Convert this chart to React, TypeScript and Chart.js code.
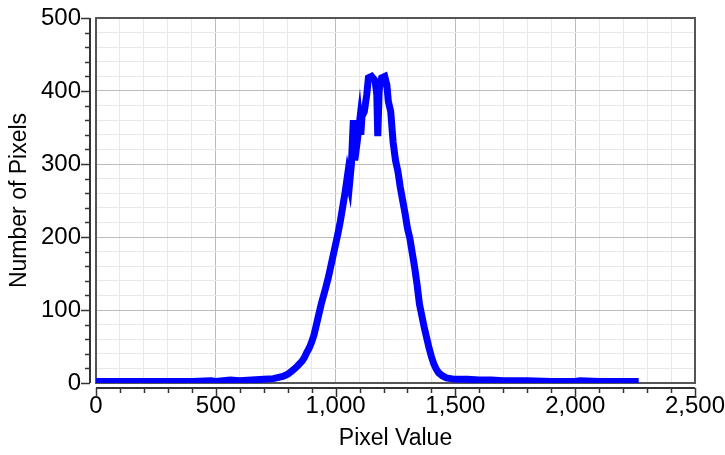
import React, { useEffect, useRef } from 'react';
import { Chart, registerables } from 'chart.js';

Chart.register(...registerables);

// Histogram
const pixelValues = [
  0, 100, 200, 300, 400, 480, 500, 560, 600, 650, 700, 740, 780, 800, 820, 840, 860, 870, 880, 890,
  900, 910, 920, 930, 940, 950, 960, 970, 980, 990, 1000, 1010, 1020, 1030, 1040, 1050, 1058, 1066,
  1074, 1080, 1090, 1100, 1105, 1110, 1120, 1130, 1137, 1150, 1165, 1172, 1176, 1182, 1192, 1205,
  1214, 1220, 1230, 1240, 1250, 1260, 1270, 1280, 1290, 1300, 1310, 1320, 1330, 1340, 1350, 1360,
  1370, 1380, 1390, 1400, 1410, 1420, 1430, 1445, 1462, 1480, 1500, 1550, 1600, 1650, 1700, 1800,
  1900, 2000, 2020, 2100, 2200, 2265,
];
const pixelCounts = [
  2, 2, 2, 2, 2, 3, 2, 4, 3, 4, 5, 6, 9, 12, 17, 23, 30, 35, 42, 48,
  56, 66, 80, 94, 108, 120, 132, 145, 160, 175, 190, 205, 222, 242, 262, 285, 272, 300,
  360, 305, 330, 358, 340, 365, 372, 395, 418, 420, 414, 395, 338, 402, 418, 420,
  408, 386, 372, 330, 305, 290, 268, 250, 232, 212, 198, 178, 158, 135, 108, 92,
  76, 62, 48, 36, 26, 19, 14, 10, 7, 6, 5, 5, 4, 4, 3, 3,
  2, 2, 3, 2, 2, 2,
];

const xMajorTicks = [0, 500, 1000, 1500, 2000, 2500];
const yMajorTicks = [0, 100, 200, 300, 400, 500];
const xTitle = 'Pixel Value';
const yTitle = 'Number of Pixels';

const FONT = '"Liberation Sans", Arial, Helvetica, sans-serif';

const offsetAxesPlugin = {
  id: 'offsetAxes',
  beforeDatasetsDraw(chart: any) {
    const { ctx, chartArea } = chart;
    ctx.save();
    ctx.strokeStyle = '#555555';
    ctx.lineWidth = 2;
    ctx.strokeRect(chartArea.left, chartArea.top, chartArea.right - chartArea.left, chartArea.bottom - chartArea.top);
    ctx.restore();
  },
  afterDraw(chart: any) {
    const { ctx, chartArea, scales } = chart;
    const xs = scales.x;
    const ys = scales.y;
    ctx.save();
    ctx.strokeStyle = '#333333';
    const ax = chartArea.left - 6;
    ctx.lineWidth = 2;
    ctx.beginPath();
    ctx.moveTo(ax, chartArea.top);
    ctx.lineTo(ax, chartArea.bottom);
    ctx.stroke();
    ctx.lineWidth = 1.5;
    ys.ticks.forEach((t: any) => {
      const py = Math.round(ys.getPixelForValue(t.value)) + 0.5;
      const len = yMajorTicks.includes(t.value) ? 9 : 5;
      ctx.beginPath();
      ctx.moveTo(ax, py);
      ctx.lineTo(ax - len, py);
      ctx.stroke();
    });
    const ay = chartArea.bottom + 5;
    ctx.lineWidth = 2;
    ctx.beginPath();
    ctx.moveTo(chartArea.left, ay);
    ctx.lineTo(chartArea.right, ay);
    ctx.stroke();
    ctx.lineWidth = 1.5;
    xs.ticks.forEach((t: any) => {
      const px = Math.round(xs.getPixelForValue(t.value)) + 0.5;
      const len = xMajorTicks.includes(t.value) ? 9 : 5;
      ctx.beginPath();
      ctx.moveTo(px, ay);
      ctx.lineTo(px, ay + len);
      ctx.stroke();
    });
    ctx.restore();
  },
};

const noPad = (s: any) => {
  s.paddingLeft = 0;
  s.paddingRight = 0;
  s.paddingTop = 0;
  s.paddingBottom = 0;
};

export default function App() {
  const canvasRef = useRef<HTMLCanvasElement | null>(null);

  useEffect(() => {
    document.body.style.margin = '0';
    const canvas = canvasRef.current;
    if (!canvas) return;
    const points = pixelValues.map((v, i) => ({ x: v, y: pixelCounts[i] }));
    const chart = new Chart(canvas, {
      type: 'line',
      data: {
        datasets: [
          {
            data: points,
            borderColor: '#0000ff',
            backgroundColor: '#0000ff',
            borderWidth: 7,
            pointRadius: 0,
            tension: 0,
            borderJoinStyle: 'miter',
          },
        ],
      },
      options: {
        animation: false,
        responsive: false,
        devicePixelRatio: 1,
        parsing: false as any,
        layout: { padding: { top: 18, right: 30, left: 0, bottom: 0 } },
        plugins: {
          legend: { display: false },
          tooltip: { enabled: false },
          title: { display: false },
        },
        scales: {
          x: {
            type: 'linear',
            min: 0,
            max: 2500,
            afterFit: (s: any) => {
              s.height = 72;
              noPad(s);
            },
            afterBuildTicks: (s: any) => {
              const t = [];
              for (let v = 0; v <= 2500; v += 100) t.push({ value: v });
              s.ticks = t;
            },
            ticks: {
              autoSkip: false,
              maxRotation: 0,
              minRotation: 0,
              padding: 9,
              color: '#000',
              font: { family: FONT, size: 24 },
              callback: (v: any) => (xMajorTicks.includes(Number(v)) ? Number(v).toLocaleString('en-US') : ''),
            },
            grid: {
              drawTicks: false,
              lineWidth: 1,
              color: (c: any) => (c.tick && xMajorTicks.includes(c.tick.value) ? '#bcbcbc' : '#e8e8e8'),
            },
            border: { display: false },
            title: {
              display: true,
              text: xTitle,
              color: '#000',
              font: { family: FONT, size: 23 },
              padding: { top: 0, bottom: 3 },
            },
          },
          y: {
            type: 'linear',
            min: 0,
            max: 500,
            afterFit: (s: any) => {
              s.width = 96;
              noPad(s);
            },
            afterBuildTicks: (s: any) => {
              const t = [];
              for (let v = 0; v <= 500; v += 20) t.push({ value: v });
              s.ticks = t;
            },
            ticks: {
              autoSkip: false,
              padding: 15,
              color: '#000',
              font: { family: FONT, size: 24 },
              callback: (v: any) => (yMajorTicks.includes(Number(v)) ? String(v) : ''),
            },
            grid: {
              drawTicks: false,
              lineWidth: 1,
              color: (c: any) => (c.tick && yMajorTicks.includes(c.tick.value) ? '#bcbcbc' : '#e8e8e8'),
            },
            border: { display: false },
            title: {
              display: true,
              text: yTitle,
              color: '#000',
              font: { family: FONT, size: 23 },
              padding: { top: 6, bottom: 0 },
            },
          },
        },
      },
      plugins: [offsetAxesPlugin],
    });
    return () => chart.destroy();
  }, []);

  return (
    <div style={{ width: 725, height: 455 }}>
      <canvas ref={canvasRef} width={725} height={455} style={{ display: 'block' }} />
    </div>
  );
}
